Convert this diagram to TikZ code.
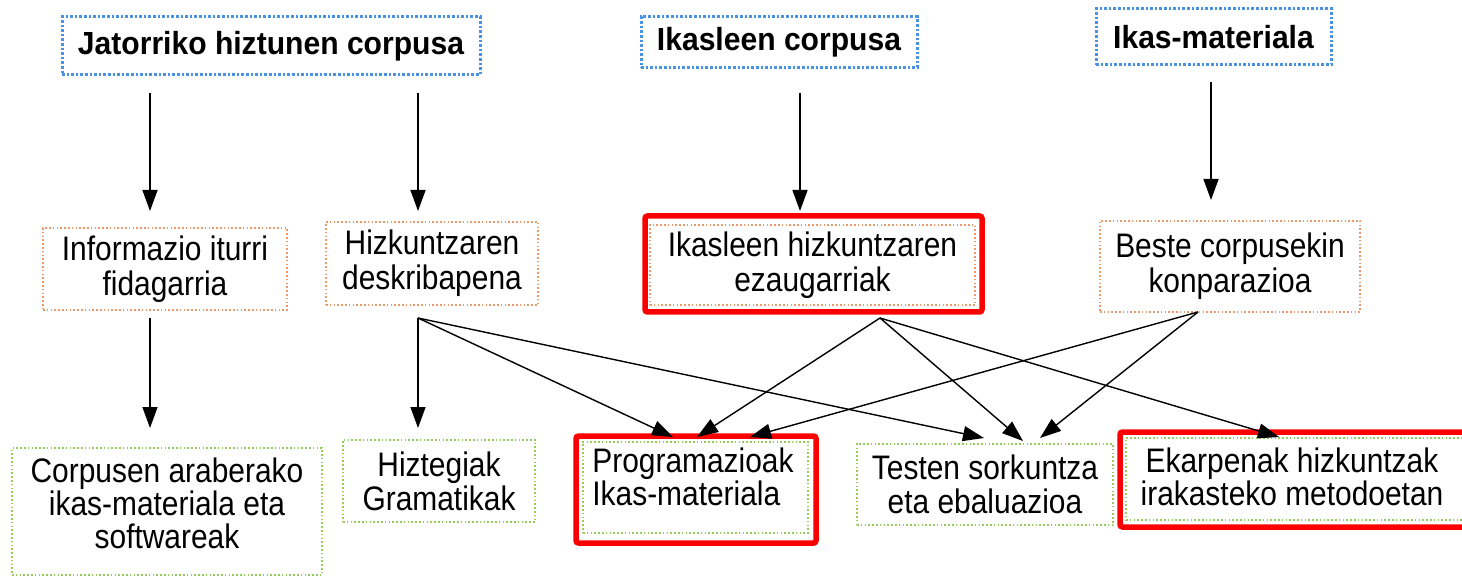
\documentclass[tikz,border=0pt]{standalone}
\usepackage{fontspec}
\setmainfont{Liberation Sans}[FakeStretch=0.88]
\newfontfamily\topfont{Liberation Sans}[FakeStretch=0.94]
\usetikzlibrary{arrows.meta}
\definecolor{bluedot}{RGB}{74,146,228}
\definecolor{orangedot}{RGB}{236,152,104}
\definecolor{greendot}{RGB}{150,205,90}
\definecolor{redframe}{RGB}{250,0,0}
\begin{document}
\begin{tikzpicture}[x=1pt,y=-1pt,
  topbox/.style={draw=bluedot, line width=3pt, dash pattern=on 2.6pt off 2pt, inner sep=0pt,
    font=\topfont\bfseries\fontsize{32}{36}\selectfont},
  midbox/.style={draw=orangedot, line width=1.3pt, dash pattern=on 1.6pt off 2.2pt, inner sep=0pt,
    align=center, font=\fontsize{34}{35}\selectfont},
  botbox/.style={draw=greendot, line width=1.3pt, dash pattern=on 1.6pt off 2.2pt, inner sep=0pt,
    align=center, font=\fontsize{34}{34}\selectfont},
  plain/.style={inner sep=0pt, align=center, font=\fontsize{34}{33}\selectfont},
  redfr/.style={draw=redframe, line width=5.5pt, rounded corners=2.5pt},
  arr/.style={draw=black, line width=1.4pt, -{Triangle[length=21pt,width=15pt]}}]
\useasboundingbox (0,0) rectangle (1462,577);

% top row
\node[topbox, minimum width=418pt, minimum height=58pt] (jat) at (271,46) {Jatorriko hiztunen corpusa};
\node[topbox, minimum width=276pt, minimum height=51pt] (ikc) at (779,42.5) {Ikasleen corpusa};
\node[topbox, minimum width=235pt, minimum height=56pt] (ikm) at (1213.5,37) {Ikas-materiala};

% middle row
\node[midbox, minimum width=244pt, minimum height=82pt] (inf) at (165,269) {Informazio iturri\\fidagarria};
\node[midbox, minimum width=212pt, minimum height=83pt] (hiz) at (432,263.5) {Hizkuntzaren\\deskribapena};
\node[midbox, minimum width=325pt, minimum height=80pt] (ikh) at (812.5,265) {Ikasleen hizkuntzaren\\ezaugarriak};
\draw[redfr] (645,216) rectangle (982,312);
\node[midbox, minimum width=260pt, minimum height=91pt] (bes) at (1230,266.5) {Beste corpusekin\\konparazioa};

% bottom row
\node[botbox, minimum width=310pt, minimum height=127pt] (corbox) at (167,511.5) {};
\node[plain] (cor) at (167,503) {Corpusen araberako\\ikas-materiala eta\\softwareak};
\node[botbox, minimum width=192pt, minimum height=82pt] (hzt) at (439,481) {Hiztegiak\\Gramatikak};
\node[botbox, minimum width=225pt, minimum height=91pt] (prgbox) at (695.5,487.5) {};
\node[plain, align=left] (prg) at (693,477) {Programazioak\\Ikas-materiala};
\draw[redfr] (576,436) rectangle (816,543);
\node[botbox, minimum width=256pt, minimum height=81pt] (tst) at (985,484.5) {Testen sorkuntza\\eta ebaluazioa};
\node[botbox, minimum width=340pt, minimum height=82pt] (ekrbox) at (1296,479) {};
\node[plain] (ekr) at (1292,477) {Ekarpenak hizkuntzak\\irakasteko metodoetan};
\draw[redfr] (1470,432) -- (1120,432) -- (1120,527) -- (1470,527);

% connector end points
\coordinate (s1) at (150,93);   \coordinate (e1) at (150,211);
\coordinate (s2) at (418,93);   \coordinate (e2) at (418,211);
\coordinate (s3) at (800,93);   \coordinate (e3) at (800,211);
\coordinate (s4) at (1211,82);  \coordinate (e4) at (1211,200);
\coordinate (s5) at (150,318);  \coordinate (e5) at (150,428);
\coordinate (hs) at (418,318);
\coordinate (ks) at (880,318);
\coordinate (bs) at (1198,312);
\coordinate (th) at (418,428);
\coordinate (p1) at (673,437);
\coordinate (p2) at (697,437);
\coordinate (p3) at (750,437);
\coordinate (t1) at (984,438);
\coordinate (t2) at (1023,441);
\coordinate (t3) at (1040,438);
\coordinate (k1) at (1279,437);

\draw[arr] (s1) -- (e1);
\draw[arr] (s2) -- (e2);
\draw[arr] (s3) -- (e3);
\draw[arr] (s4) -- (e4);
\draw[arr] (s5) -- (e5);
\draw[arr] (hs) -- (th);
\draw[arr] (hs) -- (p1);
\draw[arr] (hs) -- (t1);
\draw[arr] (ks) -- (p2);
\draw[arr] (ks) -- (t2);
\draw[arr] (ks) -- (k1);
\draw[arr] (bs) -- (p3);
\draw[arr] (bs) -- (t3);
\end{tikzpicture}
\end{document}
